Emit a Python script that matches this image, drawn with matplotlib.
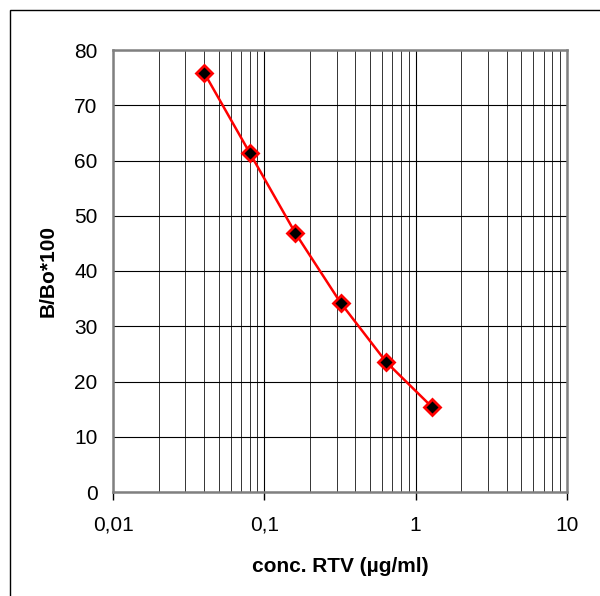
import matplotlib
matplotlib.use("Agg")
import matplotlib.pyplot as plt
from matplotlib.ticker import FixedLocator, LogLocator, NullFormatter
from matplotlib.patches import Rectangle

plt.rcParams['font.family'] = ['Liberation Sans', 'DejaVu Sans']

conc = [0.04, 0.08, 0.16, 0.32, 0.64, 1.28]
b_bo = [75.9, 61.4, 46.9, 34.2, 23.5, 15.4]
x_ticks = [0.01, 0.1, 1, 10]
x_labels = ['0,01', '0,1', '1', '10']
y_ticks = [0, 10, 20, 30, 40, 50, 60, 70, 80]

fig = plt.figure(figsize=(6, 5.96), dpi=100)
# outer chart border (right/bottom edges fall outside the picture)
fig.patches.append(Rectangle((10 / 600, -0.1), 1.2, 1 - 10 / 596 + 0.1,
                             transform=fig.transFigure, fill=False,
                             edgecolor='black', linewidth=1.0))

ax = fig.add_axes([113 / 600, 1 - 492 / 596, 454 / 600, 442 / 596])
ax.set_xscale('log')
ax.set_xlim(0.01, 10)
ax.set_ylim(0, 80)

ax.xaxis.set_major_locator(FixedLocator(x_ticks))
ax.set_xticklabels(x_labels)
ax.xaxis.set_minor_locator(LogLocator(base=10, subs=range(2, 10)))
ax.xaxis.set_minor_formatter(NullFormatter())
ax.set_yticks(y_ticks)

ax.grid(True, which='major', color='black', linewidth=0.8)
ax.grid(True, which='minor', axis='x', color='#333333', linewidth=0.7)
ax.tick_params(axis='x', which='minor', length=0)
ax.tick_params(axis='x', which='major', direction='out', length=6,
               width=1, labelsize=15, color='black', pad=11)
ax.tick_params(axis='y', which='major', length=0, labelsize=15, pad=11)

for s in ax.spines.values():
    s.set_color('#808080')
    s.set_linewidth(1.8)

ax.plot(conc, b_bo, color='red', linewidth=1.8, marker='D', markersize=8.5,
        markerfacecolor='black', markeredgecolor='red', markeredgewidth=2,
        zorder=5, clip_on=False)

ax.set_xlabel('conc. RTV (µg/ml)', fontsize=15, fontweight='bold', labelpad=16)
ax.set_ylabel('B/Bo*100', fontsize=15, fontweight='bold', labelpad=12)

fig.savefig('out.png', dpi=100)
